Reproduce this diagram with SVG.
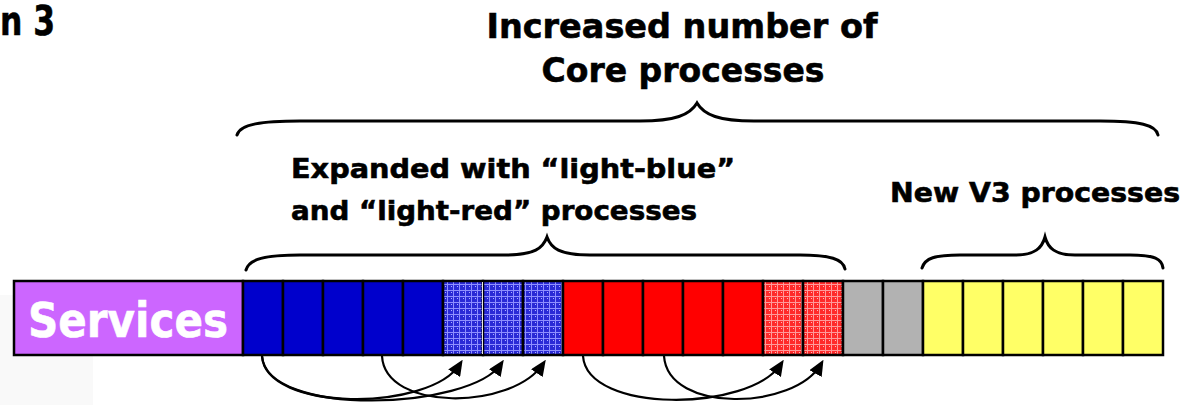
<svg xmlns="http://www.w3.org/2000/svg" width="1185" height="405" viewBox="0 0 1185 405">
  <style>
    .title { font-family: "DejaVu Sans", Verdana, sans-serif; font-weight: bold; fill: #000; stroke: #000; stroke-width: 0.6; }
    .cell { stroke: #000; stroke-width: 2.5; }
    .brace { fill: none; stroke: #000; stroke-width: 3; stroke-linecap: round; }
    .link { fill: none; stroke: #000; stroke-width: 2.2; }
  </style>
  <defs>
    <pattern id="hatchBlue" width="6" height="6" patternUnits="userSpaceOnUse">
      <rect width="6" height="6" fill="#2a2ad6"/>
      <rect x="0" y="2" width="6" height="1" fill="#8f8fff"/>
      <rect x="3" y="0" width="1" height="6" fill="#8f8fff"/>
      <rect x="1" y="4" width="1" height="1" fill="#b0b0ff"/>
    </pattern>
    <pattern id="hatchRed" width="6" height="6" patternUnits="userSpaceOnUse">
      <rect width="6" height="6" fill="#ff2a2a"/>
      <rect x="0" y="2" width="6" height="1" fill="#ff9a9a"/>
      <rect x="3" y="0" width="1" height="6" fill="#ff9a9a"/>
      <rect x="1" y="4" width="1" height="1" fill="#ffb8b8"/>
    </pattern>
    <marker id="arrow" viewBox="0 0 16 14" markerUnits="userSpaceOnUse" markerWidth="16" markerHeight="14" refX="11" refY="7" orient="auto">
      <path d="M0,0 L16,7 L0,14 z" fill="#000"/>
    </marker>
  </defs>

  <!-- backdrop -->
  <rect width="1185" height="405" fill="#fff"/>
  <rect x="0" y="295" width="93" height="110" fill="#f9f9f9"/>

  <!-- headings -->
  <text class="title" x="0" y="35" font-size="40" textLength="55" lengthAdjust="spacingAndGlyphs">n 3</text>
  <text class="title" x="682" y="38" font-size="34" text-anchor="middle" textLength="391" lengthAdjust="spacingAndGlyphs">Increased number of</text>
  <text class="title" x="683" y="82" font-size="34" text-anchor="middle" textLength="283" lengthAdjust="spacingAndGlyphs">Core processes</text>
  <text class="title" x="291" y="178" font-size="27" textLength="444" lengthAdjust="spacingAndGlyphs">Expanded with  “light-blue”</text>
  <text class="title" x="291" y="220" font-size="27" textLength="406" lengthAdjust="spacingAndGlyphs">and “light-red” processes</text>
  <text class="title" x="890" y="202" font-size="27" textLength="290" lengthAdjust="spacingAndGlyphs">New V3 processes</text>

  <!-- braces -->
  <g id="braces">
    <path class="brace" d="M237,135 C240,124 262,121 300,121 L640,121 C675,121 690,115 697,103 C704,115 719,121 754,121 L1100,121 C1140,121 1156,125 1158,135"/>
    <path class="brace" d="M246,270 C249,259 265,255 300,255 L505,255 C535,255 543,248 547,237 C551,248 559,255 590,255 L800,255 C830,255 843,259 845,269"/>
    <path class="brace" d="M922,268 C925,258 935,255 960,255 L1015,255 C1035,255 1042,248 1045,237 C1048,248 1055,255 1075,255 L1130,255 C1155,255 1162,259 1163,268"/>
  </g>

  <!-- services block -->
  <g id="services">
    <rect class="cell" x="14" y="281" width="229" height="74" fill="#cc66ff"/>
    <text x="128" y="337" font-family="'DejaVu Sans', Verdana, sans-serif" font-weight="bold" font-size="48" fill="#fff" stroke="#fff" stroke-width="0.6" text-anchor="middle" textLength="200" lengthAdjust="spacingAndGlyphs">Services</text>
  </g>

  <!-- core processes -->
  <g id="core-blue">
    <rect class="cell" x="243" y="281" width="40" height="74" fill="#0000cc"/>
    <rect class="cell" x="283" y="281" width="40" height="74" fill="#0000cc"/>
    <rect class="cell" x="323" y="281" width="40" height="74" fill="#0000cc"/>
    <rect class="cell" x="363" y="281" width="40" height="74" fill="#0000cc"/>
    <rect class="cell" x="403" y="281" width="40" height="74" fill="#0000cc"/>
  </g>
  <g id="light-blue">
    <rect class="cell" x="443" y="281" width="40" height="74" fill="url(#hatchBlue)"/>
    <rect class="cell" x="483" y="281" width="40" height="74" fill="url(#hatchBlue)"/>
    <rect class="cell" x="523" y="281" width="40" height="74" fill="url(#hatchBlue)"/>
    <line x1="482.5" y1="282" x2="482.5" y2="354" stroke="#e8e8e8" stroke-width="1"/>
  </g>
  <g id="core-red">
    <rect class="cell" x="563" y="281" width="40" height="74" fill="#ff0000"/>
    <rect class="cell" x="603" y="281" width="40" height="74" fill="#ff0000"/>
    <rect class="cell" x="643" y="281" width="40" height="74" fill="#ff0000"/>
    <rect class="cell" x="683" y="281" width="40" height="74" fill="#ff0000"/>
    <rect class="cell" x="723" y="281" width="40" height="74" fill="#ff0000"/>
  </g>
  <g id="light-red">
    <rect class="cell" x="763" y="281" width="40" height="74" fill="url(#hatchRed)"/>
    <rect class="cell" x="803" y="281" width="40" height="74" fill="url(#hatchRed)"/>
  </g>
  <g id="core-gray">
    <rect class="cell" x="843" y="281" width="40" height="74" fill="#b2b2b2"/>
    <rect class="cell" x="883" y="281" width="40" height="74" fill="#b2b2b2"/>
  </g>
  <g id="v3-yellow">
    <rect class="cell" x="923" y="281" width="40" height="74" fill="#ffff66"/>
    <rect class="cell" x="963" y="281" width="40" height="74" fill="#ffff66"/>
    <rect class="cell" x="1003" y="281" width="40" height="74" fill="#ffff66"/>
    <rect class="cell" x="1043" y="281" width="40" height="74" fill="#ffff66"/>
    <rect class="cell" x="1083" y="281" width="40" height="74" fill="#ffff66"/>
    <rect class="cell" x="1123" y="281" width="40" height="74" fill="#ffff66"/>
  </g>

  <!-- connectors -->
  <g id="connectors">
    <path class="link" marker-end="url(#arrow)" d="M262,356 C265,412 430,412 460,364"/>
    <path class="link" marker-end="url(#arrow)" d="M262,356 C267,418 470,410 501,364"/>
    <path class="link" marker-end="url(#arrow)" d="M382,356 C385,412 512,410 543,364"/>
    <path class="link" marker-end="url(#arrow)" d="M583,356 C587,414 750,412 781,364"/>
    <path class="link" marker-end="url(#arrow)" d="M664,356 C668,414 795,410 821,364"/>
  </g>
</svg>
